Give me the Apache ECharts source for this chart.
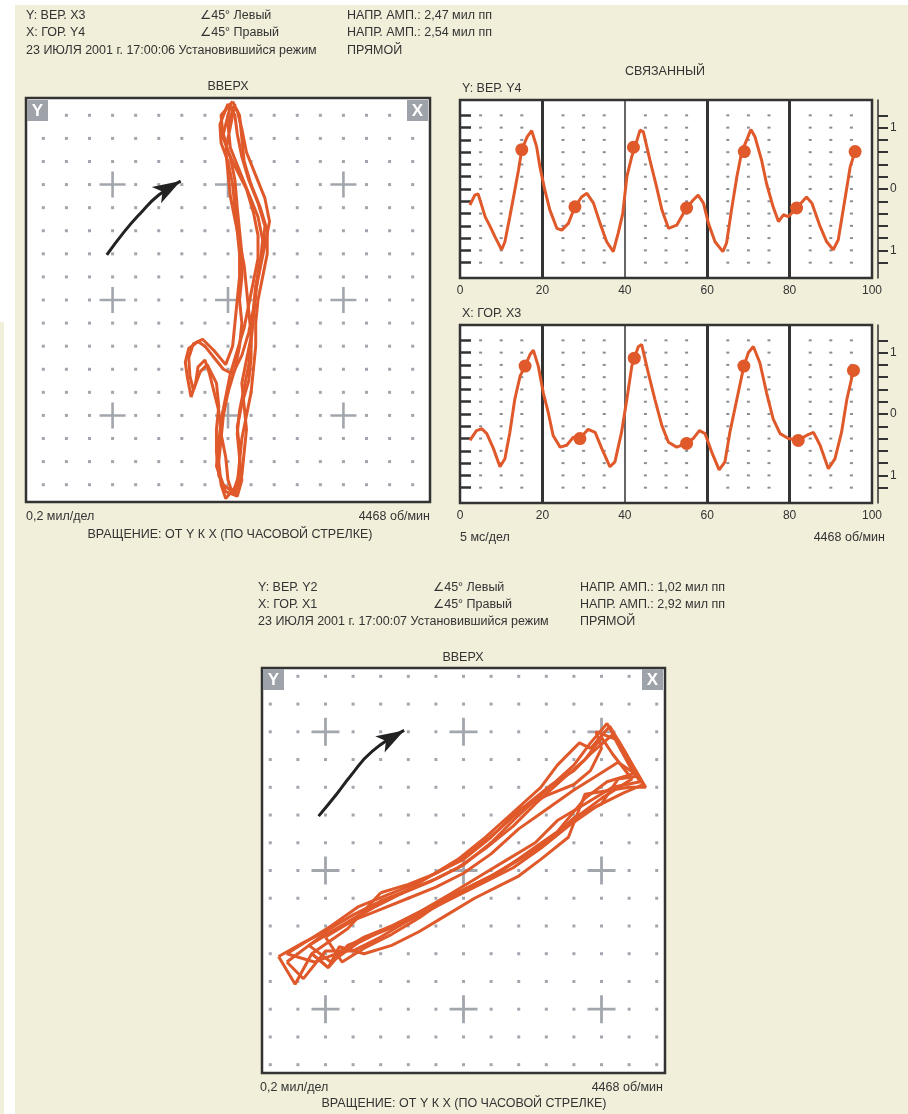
<!DOCTYPE html>
<html>
<head>
<meta charset="utf-8">
<script src="https://cdn.jsdelivr.net/npm/echarts@6/dist/echarts.min.js"></script>
<style>
  html, body { margin: 0; padding: 0; background: #f1eeda; }
  #chart { width: 908px; height: 1114px; }
</style>
</head>
<body>
<div id="chart"></div>
<script>
var orbitColor = '#e0592a';
var font = '"Liberation Sans", "DejaVu Sans", Arial, sans-serif';

// ---- орбиты, единицы делений сетки ----
var orbit1Ticks = [-8, -7, -6, -5, -4, -3, -2, -1, 0, 1, 2, 3, 4, 5, 6, 7, 8];
var orbit2Ticks = [-7, -6, -5, -4, -3, -2, -1, 0, 1, 2, 3, 4, 5, 6, 7];
var crossTicks = [-5, 0, 5];

var orbit1LoopA = [[0.2,8.6],[-0.3,8.0],[-0.2,7.0],[0.1,6.2],[0.3,5.2],[0.4,4.0],[0.5,3.0],[0.6,2.0],[0.6,1.0],[0.5,0.0],[0.6,-1.0],[0.5,-2.0],[0.3,-3.0],[0.0,-4.0],[-0.2,-5.0],[-0.3,-6.0],[-0.4,-7.0],[-0.3,-8.0],[-0.1,-8.6],[0.4,-8.0],[0.5,-7.0],[0.6,-6.0],[0.8,-5.0],[1.0,-4.0],[1.1,-3.0],[1.2,-2.0],[1.2,-1.0],[1.3,0.0],[1.5,1.0],[1.7,2.0],[1.7,3.0],[1.4,4.0],[1.0,5.0],[0.7,6.0],[0.6,7.0],[0.5,8.0],[0.2,8.6]];
var orbit1LoopB = [[0.3,8.5],[0.0,7.6],[0.1,6.6],[0.5,5.6],[0.9,4.6],[1.3,3.6],[1.5,2.6],[1.4,1.6],[1.2,0.6],[1.1,-0.4],[0.9,-1.4],[0.6,-2.4],[0.2,-3.2],[-0.2,-3.0],[-0.6,-2.5],[-1.0,-2.0],[-1.3,-1.8],[-1.7,-2.1],[-1.85,-2.7],[-1.75,-3.4],[-1.6,-4.2],[-1.4,-3.6],[-1.3,-2.9],[-1.0,-2.6],[-0.8,-3.2],[-0.6,-4.0],[-0.4,-4.8],[-0.3,-5.8],[-0.1,-6.8],[0.0,-7.8],[0.2,-8.4],[0.5,-7.5],[0.5,-6.5],[0.4,-5.5],[0.6,-4.5],[0.9,-3.5],[1.0,-2.5],[1.0,-1.5],[0.9,-0.5],[0.8,0.5],[0.7,1.5],[0.5,2.5],[0.3,3.5],[0.1,4.5],[0.0,5.5],[-0.1,6.5],[0.1,7.5],[0.3,8.5]];
var orbit1LoopC = [[0.1,8.4],[-0.2,7.2],[0.0,6.4],[0.4,5.6],[0.8,4.8],[1.1,3.8],[1.3,2.8],[1.3,1.8],[1.1,0.8],[0.9,-0.2],[0.7,-1.2],[0.4,-2.2],[0.1,-3.2],[-0.1,-4.2],[-0.3,-5.2],[-0.4,-6.2],[-0.5,-7.2],[-0.2,-8.0],[0.3,-8.4],[0.6,-7.6],[0.7,-6.6],[0.8,-5.6],[0.7,-4.6],[0.6,-3.6],[0.8,-2.6],[1.0,-1.6],[1.1,-0.6],[1.2,0.4],[1.4,1.4],[1.6,2.4],[1.8,3.4],[1.6,4.4],[1.2,5.4],[0.8,6.4],[0.6,7.4],[0.4,8.2],[0.1,8.4]];
var orbit1LoopD = [[0.0,8.5],[-0.35,7.6],[-0.3,6.8],[0.0,6.0],[0.2,5.0],[0.3,4.0],[0.4,3.0],[0.5,2.0],[0.5,1.0],[0.4,0.0],[0.3,-1.0],[0.2,-2.0],[-0.1,-2.8],[-0.6,-2.2],[-1.1,-1.7],[-1.5,-1.9],[-1.7,-2.5],[-1.65,-3.3],[-1.5,-3.9],[-1.2,-3.1],[-0.9,-2.8],[-0.5,-3.6],[-0.4,-4.6],[-0.5,-5.6],[-0.5,-6.6],[-0.4,-7.6],[-0.1,-8.3],[0.4,-8.5],[0.6,-7.8],[0.5,-6.8],[0.4,-5.8],[0.5,-4.8],[0.7,-3.8],[0.9,-2.8],[1.0,-1.8],[1.1,-0.8],[1.2,0.2],[1.3,1.2],[1.5,2.2],[1.6,3.2],[1.3,4.2],[0.9,5.2],[0.6,6.2],[0.4,7.2],[0.3,8.0],[0.0,8.5]];
var orbit1Arrow = [[-5.25,1.95],[-4.5,2.95],[-3.8,3.75],[-3.0,4.55],[-2.05,5.15]];

var orbit2LoopA = [[-6.7,-3.1],[-5.8,-2.6],[-5.0,-2.2],[-4.0,-1.6],[-3.0,-1.1],[-2.0,-0.7],[-1.0,-0.3],[0.0,0.2],[1.0,1.0],[2.0,2.0],[3.0,2.9],[4.0,3.8],[4.6,4.6],[5.2,5.3],[5.6,4.6],[6.5,3.1],[5.8,2.8],[4.8,2.3],[3.8,1.6],[2.8,0.8],[1.8,0.1],[0.8,-0.4],[-0.2,-0.9],[-1.2,-1.4],[-2.2,-1.9],[-3.2,-2.3],[-4.2,-2.7],[-4.9,-3.5],[-5.5,-3.0],[-6.1,-4.1],[-6.7,-3.1]];
var orbit2LoopB = [[-5.6,-2.7],[-4.6,-2.1],[-3.6,-1.5],[-2.4,-0.9],[-1.2,-0.4],[-0.2,0.1],[0.8,0.8],[1.8,1.6],[2.6,2.4],[3.6,3.3],[4.4,4.0],[5.0,4.8],[5.4,4.2],[6.1,3.3],[5.0,2.6],[4.2,2.0],[3.2,1.2],[2.2,0.5],[1.2,-0.1],[0.2,-0.6],[-0.8,-1.1],[-1.8,-1.6],[-2.8,-2.1],[-3.8,-2.6],[-4.8,-3.3],[-5.6,-2.7]];
var orbit2LoopC = [[-4.8,-2.0],[-3.8,-1.3],[-2.8,-0.9],[-1.8,-0.5],[-0.8,0.0],[0.2,0.6],[1.2,1.4],[2.2,2.3],[3.2,3.1],[4.0,3.6],[4.6,4.2],[5.4,4.9],[6.0,3.8],[6.4,3.2],[5.4,3.0],[4.4,2.4],[3.4,1.8],[2.6,1.0],[1.6,0.4],[0.6,-0.2],[-0.4,-0.8],[-1.6,-1.5],[-2.6,-2.0],[-3.6,-2.4],[-4.6,-3.0],[-5.4,-3.3],[-6.4,-3.0],[-4.8,-2.0]];
var orbit2LoopD = [[-3.0,-0.8],[-2.0,-0.5],[-1.0,-0.1],[0.0,0.4],[1.0,1.2],[2.0,2.2],[3.0,2.7],[4.0,3.1],[4.6,3.6],[5.0,4.4],[4.8,5.0],[5.6,4.7],[6.6,3.0],[6.0,3.0],[4.4,2.75],[3.8,1.2],[2.8,0.4],[2.0,-0.2],[1.2,-0.6],[0.4,-1.0],[-0.6,-1.6],[-1.6,-2.2],[-2.6,-2.7],[-3.6,-3.0],[-4.5,-2.75],[-4.9,-3.5],[-5.5,-3.0],[-4.2,-2.1],[-3.0,-0.8]];
var orbit2LoopE = [[-6.4,-3.3],[-5.2,-2.4],[-4.2,-1.9],[-3.2,-1.3],[-2.2,-0.8],[-1.2,-0.2],[-0.2,0.4],[0.8,1.2],[1.8,2.1],[2.8,3.0],[3.4,3.8],[4.2,4.6],[4.6,4.4],[5.3,5.2],[5.9,4.2],[6.3,3.4],[5.6,3.3],[5.0,2.4],[4.0,1.9],[3.0,1.0],[2.0,0.4],[1.0,-0.2],[0.0,-0.7],[-1.0,-1.3],[-2.0,-1.8],[-3.0,-2.4],[-4.0,-2.9],[-5.0,-2.9],[-5.8,-3.9],[-6.4,-3.3]];
var orbit2LoopF = [[-5.0,-2.4],[-4.0,-1.8],[-3.0,-1.4],[-2.0,-1.0],[-1.0,-0.6],[0.0,-0.1],[1.0,0.6],[2.0,1.5],[3.0,2.2],[4.0,2.9],[4.8,3.4],[5.6,3.9],[6.2,3.5],[5.2,3.2],[4.4,2.6],[3.4,1.4],[2.4,0.7],[1.4,0.0],[0.4,-0.5],[-0.6,-1.0],[-1.6,-1.7],[-2.6,-2.3],[-3.6,-2.8],[-4.4,-3.3],[-5.0,-2.4]];
var orbit2Arrow = [[-5.25,1.96],[-4.6,2.75],[-4.1,3.4],[-3.3,4.3],[-2.15,5.05]];

// ---- связанные сигналы, 0..100 (5 мс/дел) ----
var y4T = [2.4,3.6,4.4,6.1,7.3,8.5,10.1,10.9,12.1,13.3,14.2,15.0,16.3,17.4,18.6,19.4,20.6,21.8,23.5,24.7,26.3,27.9,29.5,30.8,32.4,34.0,35.6,37.2,38.4,39.5,40.5,41.7,42.5,43.7,44.5,46.1,47.7,49.0,50.6,52.6,53.8,55.0,56.6,57.8,59.1,60.3,61.9,63.8,64.7,65.9,67.2,68.4,69.6,70.6,71.6,73.2,74.4,76.0,77.3,78.5,79.7,81.7,84.1,85.4,87.4,89.0,90.6,91.8,93.4,94.7,95.9];
var y4V = [-0.26,-0.10,-0.08,-0.45,-0.61,-0.78,-0.99,-0.86,-0.45,-0.02,0.31,0.64,0.85,0.95,0.69,0.36,-0.02,-0.34,-0.64,-0.67,-0.56,-0.29,-0.13,-0.07,-0.23,-0.56,-0.86,-1.02,-0.72,-0.40,0.20,0.53,0.69,0.96,0.93,0.47,0.04,-0.34,-0.64,-0.59,-0.45,-0.31,-0.18,-0.10,-0.23,-0.56,-0.86,-1.02,-0.88,-0.34,0.20,0.61,0.80,0.97,0.85,0.47,0.09,-0.29,-0.53,-0.42,-0.45,-0.31,-0.13,-0.23,-0.61,-0.86,-0.99,-0.83,-0.18,0.36,0.61];
var y4MarkT = [15.0, 27.9, 42.1, 55.0, 69.0, 81.7, 95.9];
var y4MarkV = [0.64, -0.29, 0.68, -0.31, 0.61, -0.31, 0.61];

var x3T = [2.4,4.0,5.3,6.5,8.1,9.7,10.9,12.1,13.3,14.6,15.8,17.0,17.8,19.0,20.2,21.4,22.6,24.3,25.9,27.5,29.1,31.1,32.8,34.4,36.4,37.6,39.2,40.5,41.7,42.3,43.3,44.1,45.7,47.3,49.0,50.6,52.6,55.0,56.6,58.1,59.5,61.1,62.9,64.3,65.5,67.2,68.9,70.0,71.2,72.8,74.4,76.0,77.7,79.7,82.1,84.1,85.8,87.4,89.4,91.0,92.6,93.9,95.5];
var x3V = [-0.43,-0.27,-0.24,-0.32,-0.56,-0.86,-0.73,-0.30,0.24,0.62,0.78,0.97,1.04,0.78,0.35,0.03,-0.35,-0.54,-0.51,-0.38,-0.40,-0.25,-0.30,-0.56,-0.86,-0.78,-0.30,0.24,0.78,0.91,1.10,1.13,0.67,0.24,-0.19,-0.46,-0.54,-0.48,-0.40,-0.27,-0.32,-0.62,-0.91,-0.78,-0.30,0.24,0.78,1.00,1.10,0.83,0.35,-0.08,-0.32,-0.40,-0.43,-0.35,-0.30,-0.51,-0.89,-0.73,-0.30,0.24,0.71];
var x3MarkT = [15.8, 29.1, 42.3, 55.0, 68.9, 82.1, 95.5];
var x3MarkV = [0.78, -0.40, 0.91, -0.48, 0.78, -0.43, 0.71];

var waveDotT = [5, 10, 15, 25, 30, 35, 45, 50, 55, 65, 70, 75, 85, 90, 95];
var waveTicks = [-1.2, -1.0, -0.8, -0.6, -0.4, -0.2, 0, 0.2, 0.4, 0.6, 0.8, 1.0, 1.2];
var waveLabels = [-1, 0, 1];
var waveXLabels = [0, 20, 40, 60, 80, 100];

function zip(a, b) {
  return a.map(function (v, i) { return [v, b[i]]; });
}

function gridDots(ticks) {
  var out = [];
  ticks.forEach(function (x) {
    ticks.forEach(function (y) {
      if (crossTicks.indexOf(x) >= 0 && crossTicks.indexOf(y) >= 0) return;
      out.push([x, y]);
    });
  });
  return out;
}

function crosses() {
  var out = [];
  crossTicks.forEach(function (x) {
    crossTicks.forEach(function (y) { out.push([x, y]); });
  });
  return out;
}

function waveDots() {
  var out = [];
  waveDotT.forEach(function (t) {
    waveTicks.forEach(function (v) { out.push([t, v]); });
  });
  return out;
}

var plusPath = 'path://M9,0h2v9h9v2h-9v9h-2v-9h-9v-2h9z';
var gridBox = { show: true, backgroundColor: '#fff', borderColor: '#333', borderWidth: 2.5 };

function orbitSeries(idx, loops, ticks, arrow, crossSize) {
  var list = [];
  list.push({
    type: 'scatter', xAxisIndex: idx, yAxisIndex: idx, silent: true, z: 1,
    symbol: 'rect', symbolSize: 3, itemStyle: { color: '#a2a6ad', opacity: 1 },
    data: gridDots(ticks)
  });
  list.push({
    type: 'scatter', xAxisIndex: idx, yAxisIndex: idx, silent: true, z: 1,
    symbol: plusPath, symbolSize: crossSize, itemStyle: { color: '#a2a6ad', opacity: 1 },
    data: crosses()
  });
  loops.forEach(function (loop) {
    list.push({
      type: 'line', xAxisIndex: idx, yAxisIndex: idx, silent: true, z: 5,
      showSymbol: false, lineStyle: { color: orbitColor, width: 3 },
      data: loop
    });
  });
  var arrowData = arrow.map(function (p, i) {
    if (i < arrow.length - 1) return { value: p, symbol: 'none' };
    return { value: p, symbol: 'arrow', symbolSize: [14, 28], symbolRotate: -60 };
  });
  list.push({
    type: 'line', xAxisIndex: idx, yAxisIndex: idx, silent: true, z: 6,
    smooth: true, showSymbol: true, showAllSymbol: true,
    lineStyle: { color: '#222', width: 3 }, itemStyle: { color: '#222', opacity: 1 },
    data: arrowData
  });
  return list;
}

function waveSeries(xi, yi, t, v, mt, mv) {
  return [
    {
      type: 'scatter', xAxisIndex: xi, yAxisIndex: yi, silent: true, z: 1,
      symbol: 'rect', symbolSize: [3, 2], itemStyle: { color: '#8a8d92', opacity: 1 },
      data: waveDots(),
      markLine: {
        silent: true, symbol: ['none', 'none'], label: { show: false },
        lineStyle: { color: '#333', width: 3, type: 'solid' },
        data: [{ xAxis: 20 }, { xAxis: 40, lineStyle: { width: 1.5 } }, { xAxis: 60 }, { xAxis: 80 }]
      }
    },
    {
      type: 'line', xAxisIndex: xi, yAxisIndex: yi, silent: true, z: 5,
      showSymbol: false, lineStyle: { color: orbitColor, width: 3 },
      data: zip(t, v)
    },
    {
      type: 'scatter', xAxisIndex: xi, yAxisIndex: yi, silent: true, z: 6,
      symbol: 'circle', symbolSize: 13, itemStyle: { color: orbitColor, opacity: 1 },
      data: zip(mt, mv)
    }
  ];
}

function waveXAxis(gi) {
  return {
    gridIndex: gi, type: 'value', min: 0, max: 100, interval: 20,
    axisLine: { show: false }, axisTick: { show: false }, splitLine: { show: false },
    axisLabel: { color: '#333', fontSize: 12, fontFamily: font, margin: 7,
      customValues: waveXLabels }
  };
}

function waveYAxes(gi) {
  return [
    {
      gridIndex: gi, type: 'value', min: -1.45, max: 1.45, position: 'left',
      axisLine: { show: false, onZero: false },
      axisTick: { show: true, inside: true, length: 11, customValues: waveTicks,
        lineStyle: { color: '#333', width: 2.5 } },
      axisLabel: { show: false }, splitLine: { show: false }
    },
    {
      gridIndex: gi, type: 'value', min: -1.45, max: 1.45, position: 'right', offset: 6,
      axisLine: { show: true, onZero: false, lineStyle: { color: '#333', width: 1.5 } },
      axisTick: { show: true, length: 10, customValues: waveTicks,
        lineStyle: { color: '#333', width: 2 } },
      axisLabel: { color: '#333', fontSize: 12, fontFamily: font, margin: 12,
        customValues: waveLabels,
        formatter: function (v) { return String(Math.abs(v)); } },
      splitLine: { show: false }
    }
  ];
}

function hiddenAxis(gi, lim) {
  return { gridIndex: gi, type: 'value', min: -lim, max: lim, show: false, splitLine: { show: false } };
}

// подписи
var labels = [
  [26, 16, 'Y: ВЕР. X3', 'left'],
  [26, 33, 'X: ГОР. Y4', 'left'],
  [26, 51, '23 ИЮЛЯ 2001 г. 17:00:06 Установившийся режим', 'left'],
  [200, 16, '∠45° Левый', 'left'],
  [200, 33, '∠45° Правый', 'left'],
  [347, 16, 'НАПР. АМП.: 2,47 мил пп', 'left'],
  [347, 33, 'НАПР. АМП.: 2,54 мил пп', 'left'],
  [347, 51, 'ПРЯМОЙ', 'left'],
  [228, 87, 'ВВЕРХ', 'center'],
  [665, 72, 'СВЯЗАННЫЙ', 'center'],
  [462, 89, 'Y: ВЕР. Y4', 'left'],
  [462, 314, 'X: ГОР. X3', 'left'],
  [26, 517, '0,2 мил/дел', 'left'],
  [430, 517, '4468 об/мин', 'right'],
  [230, 535, 'ВРАЩЕНИЕ: ОТ Y К X (ПО ЧАСОВОЙ СТРЕЛКЕ)', 'center'],
  [460, 538, '5 мс/дел', 'left'],
  [885, 538, '4468 об/мин', 'right'],
  [258, 588, 'Y: ВЕР. Y2', 'left'],
  [258, 605, 'X: ГОР. X1', 'left'],
  [258, 622, '23 ИЮЛЯ 2001 г. 17:00:07 Установившийся режим', 'left'],
  [433, 588, '∠45° Левый', 'left'],
  [433, 605, '∠45° Правый', 'left'],
  [580, 588, 'НАПР. АМП.: 1,02 мил пп', 'left'],
  [580, 605, 'НАПР. АМП.: 2,92 мил пп', 'left'],
  [580, 622, 'ПРЯМОЙ', 'left'],
  [463, 658, 'ВВЕРХ', 'center'],
  [260, 1088, '0,2 мил/дел', 'left'],
  [663, 1088, '4468 об/мин', 'right'],
  [464, 1104, 'ВРАЩЕНИЕ: ОТ Y К X (ПО ЧАСОВОЙ СТРЕЛКЕ)', 'center']
];

var icons = [
  [27, 100, 'Y'], [407, 100, 'X'],
  [263, 669, 'Y'], [642, 669, 'X']
];

var graphic = [
  { type: 'rect', z: -10, shape: { x: 0, y: 0, width: 908, height: 5 }, style: { fill: '#fff' } },
  { type: 'rect', z: -10, shape: { x: 0, y: 0, width: 15, height: 322 }, style: { fill: '#fff' } },
  { type: 'rect', z: -10, shape: { x: 4, y: 322, width: 11, height: 792 }, style: { fill: '#fff' } }
];
labels.forEach(function (l) {
  graphic.push({
    type: 'text', z: 50, x: l[0], y: l[1],
    style: { text: l[2], fill: '#333', font: '12.5px ' + font, textAlign: l[3], textVerticalAlign: 'middle' }
  });
});
icons.forEach(function (ic) {
  graphic.push({ type: 'rect', z: 100, shape: { x: ic[0], y: ic[1], width: 21, height: 21 }, style: { fill: '#9ea2a9' } });
  graphic.push({
    type: 'text', z: 101, x: ic[0] + 10.5, y: ic[1] + 11,
    style: { text: ic[2], fill: '#fff', font: 'bold 17px ' + font, textAlign: 'center', textVerticalAlign: 'middle' }
  });
});

var chart = echarts.init(document.getElementById('chart'));
var yAxes = [hiddenAxis(0, 8.75)].concat(waveYAxes(1), waveYAxes(2), [hiddenAxis(3, 7.3)]);

var option = {
  backgroundColor: '#f1eeda',
  animation: false,
  grid: [
    Object.assign({ left: 26, top: 98, width: 404, height: 404 }, gridBox),
    Object.assign({ left: 460, top: 100, width: 412, height: 178 }, gridBox),
    Object.assign({ left: 460, top: 325, width: 412, height: 178 }, gridBox),
    Object.assign({ left: 262, top: 668, width: 403, height: 405 }, gridBox)
  ],
  xAxis: [hiddenAxis(0, 8.75), waveXAxis(1), waveXAxis(2), hiddenAxis(3, 7.3)],
  yAxis: yAxes,
  graphic: graphic,
  series: [].concat(
    orbitSeries(0, [orbit1LoopA, orbit1LoopB, orbit1LoopC, orbit1LoopD], orbit1Ticks, orbit1Arrow, 26),
    waveSeries(1, 1, y4T, y4V, y4MarkT, y4MarkV),
    waveSeries(2, 3, x3T, x3V, x3MarkT, x3MarkV),
    orbitSeries(3, [orbit2LoopA, orbit2LoopB, orbit2LoopC, orbit2LoopD, orbit2LoopE, orbit2LoopF], orbit2Ticks, orbit2Arrow, 28)
  )
};
// орбита 2 — ось Y с индексом 5
option.series.forEach(function (s) {
  if (s.xAxisIndex === 3) s.yAxisIndex = 5;
});
chart.setOption(option);
</script>
</body>
</html>
